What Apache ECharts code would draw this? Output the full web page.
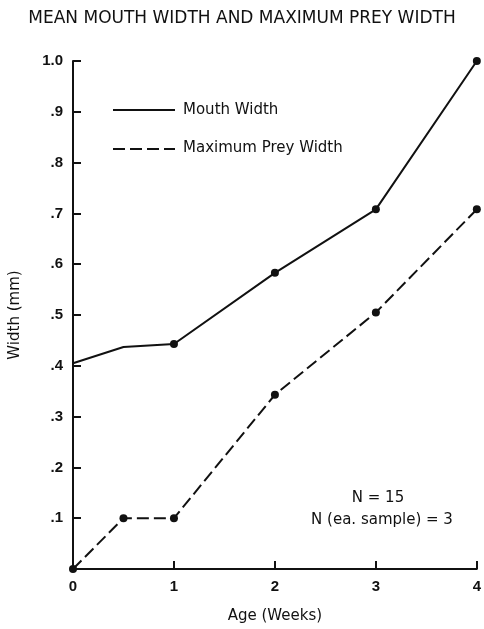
<!DOCTYPE html>
<html>
<head>
<meta charset="utf-8">
<script src="https://cdn.jsdelivr.net/npm/echarts@6/dist/echarts.min.js"></script>
<style>
  html, body { margin: 0; padding: 0; background: #fff; }
  #chart { width: 484px; height: 629px; }
</style>
</head>
<body>
<div id="chart"></div>
<script>
// Ages (weeks) and widths (mm)
const ages = [0, 0.5, 1, 2, 3, 4];
const mouthWidth = [0.405, 0.437, 0.443, 0.583, 0.708, 1.0];
const preyWidth = [0.0, 0.1, 0.1, 0.343, 0.505, 0.708];
const mouthDots = [false, false, true, true, true, true];
const preyDots = [true, true, true, true, true, true];
const yTicks = [0, 0.1, 0.2, 0.3, 0.4, 0.5, 0.6, 0.7, 0.8, 0.9, 1.0];

document.addEventListener('DOMContentLoaded', function() {
    const chart = echarts.init(document.getElementById('chart'));
    const font = 'DejaVu Sans, Liberation Sans, sans-serif';
    const numFont = 'Liberation Sans, Arial, sans-serif';

    function toPoints(values, dots) {
        return ages.map(function(a, i) {
            return {
                value: [a, values[i]],
                symbol: dots[i] ? 'circle' : 'none'
            };
        });
    }

    const option = {
        animation: false,
        backgroundColor: '#fff',
        title: {
            text: 'MEAN MOUTH WIDTH AND MAXIMUM PREY WIDTH',
            left: 'center',
            top: 5,
            textStyle: {
                fontFamily: font,
                fontWeight: 'normal',
                fontSize: 17,
                color: '#111'
            }
        },
        grid: {
            left: 69,
            right: 7,
            top: 61,
            bottom: 59
        },
        xAxis: {
            type: 'value',
            min: 0,
            max: 4,
            interval: 1,
            name: 'Age (Weeks)',
            nameLocation: 'middle',
            nameGap: 40,
            nameTextStyle: { fontFamily: font, fontSize: 15, color: '#111' },
            axisLine: { lineStyle: { color: '#111', width: 2 } },
            axisTick: { inside: true, length: 8, lineStyle: { color: '#111', width: 2 } },
            axisLabel: { fontFamily: numFont, fontWeight: 'bold', fontSize: 15, color: '#111', margin: 10 },
            splitLine: { show: false }
        },
        yAxis: {
            type: 'value',
            min: 0,
            max: 1.0,
            interval: 0.1,
            name: 'Width (mm)',
            nameLocation: 'middle',
            nameGap: 50,
            nameTextStyle: { fontFamily: font, fontSize: 15, color: '#111' },
            axisLine: { lineStyle: { color: '#111', width: 2 } },
            axisTick: { inside: true, length: 8, lineStyle: { color: '#111', width: 2 } },
            axisLabel: {
                fontFamily: numFont,
                fontWeight: 'bold',
                fontSize: 15,
                color: '#111',
                margin: 10,
                showMinLabel: false,
                formatter: function(v) {
                    const r = Math.round(v * 10) / 10;
                    if (yTicks.indexOf(r) < 0 || r === 0) return '';
                    if (r === 1) return '1.0';
                    return '.' + Math.round(r * 10);
                }
            },
            splitLine: { show: false }
        },
        series: [
            {
                name: 'Mouth Width',
                type: 'line',
                data: toPoints(mouthWidth, mouthDots),
                symbolSize: 8,
                itemStyle: { color: '#111' },
                lineStyle: { color: '#111', width: 2 }
            },
            {
                name: 'Maximum Prey Width',
                type: 'line',
                data: toPoints(preyWidth, preyDots),
                symbolSize: 8,
                itemStyle: { color: '#111' },
                lineStyle: { color: '#111', width: 2, type: [12, 5] }
            }
        ],
        graphic: [
            { type: 'line', shape: { x1: 113, y1: 110, x2: 175, y2: 110 }, style: { stroke: '#111', lineWidth: 2 } },
            { type: 'text', x: 183, y: 110, style: { text: 'Mouth Width', font: '15px ' + font, fill: '#111', verticalAlign: 'middle' } },
            { type: 'line', shape: { x1: 113, y1: 149, x2: 175, y2: 149 }, style: { stroke: '#111', lineWidth: 2, lineDash: [12, 5] } },
            { type: 'text', x: 183, y: 148, style: { text: 'Maximum Prey Width', font: '15px ' + font, fill: '#111', verticalAlign: 'middle' } },
            { type: 'text', x: 378, y: 498, style: { text: 'N = 15', font: '15px ' + font, fill: '#111', align: 'center', verticalAlign: 'middle' } },
            { type: 'text', x: 382, y: 520, style: { text: 'N (ea. sample) = 3', font: '15px ' + font, fill: '#111', align: 'center', verticalAlign: 'middle' } }
        ]
    };
    chart.setOption(option);
});
</script>
</body>
</html>
